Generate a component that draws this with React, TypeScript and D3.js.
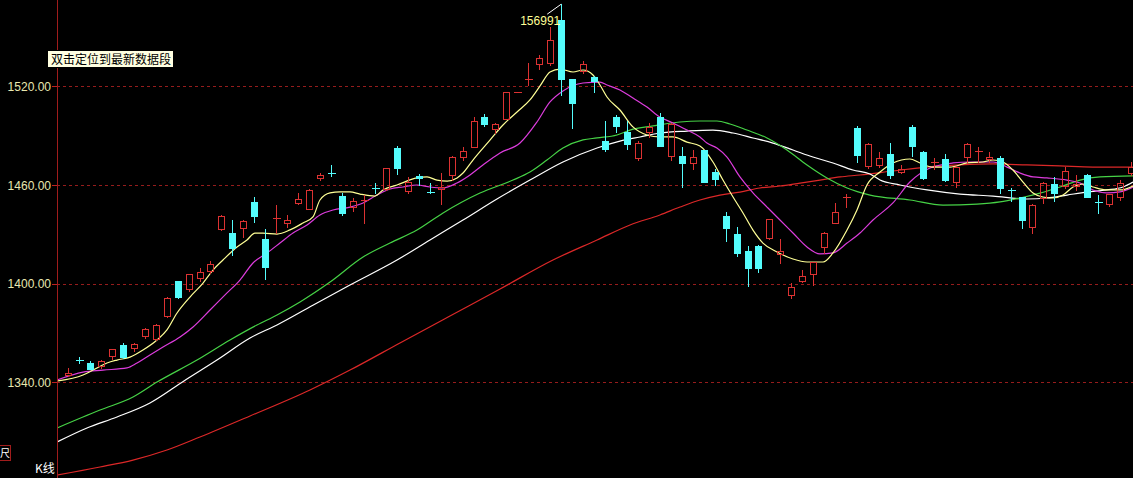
import React, { useRef, useEffect } from 'react';
import * as d3 from 'd3';

const W = 1133;
const H = 478;

// K-line values, one entry per session (left to right)
const openPrices = [
  1344.5, 1353.8, 1352.0, 1350.0, 1356.0, 1362.7, 1360.7, 1368.2, 1366.2, 1380.4,
  1401.6, 1396.6, 1403.6, 1407.9, 1433.1, 1431.0, 1433.7, 1449.5, 1427.0, 1439.6,
  1436.7, 1448.9, 1445.6, 1464.4, 1467.6, 1453.3, 1446.8, 1450.6, 1458.1, 1457.4,
  1482.3, 1456.5, 1465.2, 1455.7, 1457.4, 1466.1, 1476.8, 1483.3, 1501.3, 1494.0,
  1500.4, 1516.5, 1524.3, 1533.4, 1534.0, 1560.3, 1524.4, 1529.3, 1525.8, 1486.7,
  1501.5, 1492.4, 1476.2, 1492.4, 1501.5, 1477.8, 1477.6, 1473.2, 1481.3, 1468.1,
  1441.2, 1430.0, 1420.0, 1423.1, 1427.6, 1417.9, 1393.1, 1401.8, 1405.9, 1422.5,
  1437.1, 1452.7, 1494.5, 1471.5, 1472.2, 1478.8, 1467.9, 1495.4, 1479.9, 1473.4,
  1475.6, 1462.0, 1476.8, 1480.1, 1475.6, 1476.2, 1456.7, 1452.5, 1434.3, 1451.9,
  1460.6, 1459.4, 1459.4, 1466.1, 1449.4, 1448.4, 1452.5, 1467.5,
];
const highPrices = [
  1348.9, 1355.2, 1353.0, 1353.5, 1360.5, 1363.8, 1364.1, 1372.8, 1375.5, 1392.1,
  1401.8, 1406.2, 1409.4, 1413.8, 1442.0, 1438.7, 1438.5, 1452.9, 1433.1, 1447.8,
  1441.8, 1455.0, 1457.3, 1467.5, 1472.2, 1455.0, 1451.9, 1453.9, 1461.0, 1470.5,
  1483.7, 1465.0, 1466.7, 1461.4, 1467.1, 1477.5, 1483.3, 1501.2, 1503.2, 1497.5,
  1516.8, 1516.5, 1534.0, 1539.0, 1556.2, 1569.91, 1524.5, 1535.6, 1526.0, 1498.9,
  1502.6, 1499.1, 1486.5, 1497.9, 1503.6, 1497.5, 1483.3, 1481.3, 1481.5, 1469.7,
  1443.4, 1434.6, 1423.1, 1423.5, 1439.5, 1427.0, 1400.2, 1408.3, 1413.5, 1431.5,
  1449.2, 1454.5, 1496.0, 1485.3, 1480.2, 1485.3, 1472.2, 1496.5, 1480.5, 1476.6,
  1478.7, 1471.5, 1485.3, 1482.9, 1480.2, 1477.6, 1458.0, 1453.0, 1448.2, 1462.0,
  1465.0, 1470.8, 1466.1, 1466.5, 1453.9, 1454.6, 1463.0, 1474.2,
];
const lowPrices = [
  1344.0, 1352.0, 1348.0, 1348.8, 1354.0, 1355.0, 1359.3, 1366.8, 1365.8, 1379.6,
  1391.5, 1395.8, 1401.8, 1406.7, 1432.5, 1417.4, 1428.6, 1437.7, 1402.7, 1430.6,
  1434.6, 1448.5, 1445.2, 1463.0, 1465.5, 1441.8, 1444.4, 1437.1, 1455.0, 1457.0,
  1466.7, 1455.0, 1460.0, 1455.2, 1448.4, 1463.0, 1475.2, 1483.0, 1495.9, 1491.4,
  1500.0, 1516.5, 1520.8, 1530.3, 1533.0, 1514.7, 1494.8, 1527.9, 1516.7, 1480.9,
  1492.4, 1481.9, 1475.5, 1489.4, 1483.5, 1475.2, 1458.6, 1469.7, 1462.0, 1460.0,
  1426.0, 1416.8, 1398.8, 1406.9, 1427.3, 1412.4, 1391.1, 1401.3, 1399.2, 1418.8,
  1437.0, 1446.4, 1474.2, 1470.3, 1471.0, 1464.4, 1467.5, 1477.8, 1463.5, 1469.5,
  1462.6, 1458.6, 1473.6, 1474.2, 1474.2, 1455.3, 1450.5, 1433.7, 1431.0, 1448.9,
  1450.5, 1458.0, 1457.0, 1452.5, 1442.8, 1447.2, 1450.9, 1466.1,
];
const closePrices = [
  1345.9, 1353.6, 1348.0, 1353.0, 1360.1, 1355.6, 1363.2, 1372.3, 1374.9, 1391.1,
  1391.7, 1405.7, 1407.3, 1412.0, 1441.2, 1421.5, 1438.3, 1441.3, 1410.3, 1440.2,
  1438.7, 1451.3, 1457.0, 1466.1, 1467.4, 1442.8, 1450.3, 1450.9, 1458.0, 1470.2,
  1470.2, 1462.0, 1464.3, 1455.3, 1459.0, 1476.8, 1480.7, 1499.1, 1497.1, 1497.1,
  1516.4, 1516.5, 1524.4, 1537.0, 1548.1, 1524.4, 1510.0, 1533.4, 1523.2, 1481.9,
  1495.9, 1484.9, 1485.7, 1495.4, 1483.9, 1497.1, 1473.6, 1476.8, 1462.0, 1463.6,
  1434.0, 1418.5, 1409.4, 1409.7, 1439.1, 1420.0, 1397.8, 1404.7, 1413.0, 1431.0,
  1443.4, 1453.0, 1478.2, 1484.9, 1476.2, 1466.1, 1469.5, 1483.9, 1464.1, 1474.2,
  1463.0, 1471.1, 1484.9, 1480.4, 1477.2, 1458.0, 1456.4, 1438.7, 1447.8, 1461.4,
  1455.0, 1468.5, 1460.6, 1452.9, 1449.1, 1454.3, 1461.0, 1471.1,
];

// moving average lines: [session index, price]
const ma5Line: [number, number][] = [
  [-1, 1340.9], [1.37, 1344.5], [2.28, 1347.5], [3.56, 1351.8], [4.47, 1353.6], [5.66, 1355.4],
  [6.84, 1359.7], [8.12, 1365.8], [9.03, 1371.9], [9.95, 1382.2], [11.13, 1391.9], [12.32, 1400.4],
  [13.23, 1408.3], [14.14, 1414.4], [15.42, 1422.3], [16.33, 1426.6], [17.06, 1430.8], [17.79, 1430.8],
  [19.07, 1430.2], [20.26, 1432.7], [21.44, 1436.9], [22.35, 1440.6], [22.99, 1450.9], [23.91, 1455.2],
  [24.82, 1455.8], [25.73, 1455.8], [26.64, 1454.5], [28.0, 1453.3], [28.74, 1457.0], [30.02, 1460.0],
  [31.84, 1464.3], [32.76, 1464.9], [33.67, 1463.0], [34.6, 1462.4], [35.5, 1464.3], [36.04, 1467.3],
  [36.95, 1475.2], [38.5, 1487.3], [39.69, 1496.5], [40.97, 1504.4], [42.15, 1511.7], [43.07, 1520.2],
  [43.98, 1528.7], [44.89, 1530.5], [46.08, 1528.7], [46.99, 1529.9], [47.9, 1526.9], [48.54, 1520.8],
  [49.18, 1513.5], [50.36, 1505.6], [51.55, 1495.3], [52.83, 1490.4], [54.01, 1489.2], [55.2, 1489.2],
  [56.48, 1486.1], [57.66, 1483.7], [58.85, 1474.0], [59.76, 1463.0], [60.68, 1452.7], [61.59, 1443.0],
  [62.5, 1432.6], [63.41, 1424.7], [64.69, 1419.3], [66.15, 1415.0], [67.43, 1413.2], [68.89, 1413.2],
  [69.8, 1418.7], [71.08, 1432.6], [71.99, 1444.8], [72.9, 1460.0], [74.09, 1467.9], [75.27, 1473.4],
  [76.82, 1475.8], [77.74, 1473.4], [78.92, 1470.9], [80.47, 1470.9], [82.03, 1473.4], [83.49, 1474.0],
  [84.4, 1475.2], [85.31, 1474.0], [86.22, 1469.1], [87.14, 1461.8], [88.05, 1455.2], [88.96, 1452.7],
  [89.87, 1452.1], [90.79, 1453.9], [91.7, 1458.8], [92.61, 1460.6], [93.52, 1458.8], [94.8, 1457.0],
  [95.99, 1457.0], [97.17, 1459.4],
];
const ma10Line: [number, number][] = [
  [-1, 1341.5], [1.37, 1346.3], [3.19, 1347.5], [5.38, 1348.8], [6.3, 1351.8], [7.48, 1356.7],
  [8.67, 1361.5], [10.22, 1367.6], [11.41, 1373.7], [12.96, 1384.0], [14.51, 1394.4], [15.69, 1402.2],
  [16.88, 1412.6], [18.16, 1418.7], [19.34, 1424.7], [20.53, 1430.8], [21.81, 1435.7], [22.99, 1441.8],
  [24.18, 1444.8], [25.73, 1446.6], [26.92, 1449.1], [28.19, 1453.9], [29.38, 1457.6], [30.57, 1458.8],
  [31.84, 1460.0], [33.03, 1458.8], [34.22, 1458.2], [35.49, 1461.2], [36.68, 1466.1], [37.86, 1472.2],
  [39.42, 1479.5], [41.24, 1485.5], [42.79, 1498.3], [43.98, 1510.5], [45.16, 1517.2], [46.99, 1522.0],
  [48.54, 1522.6], [49.18, 1520.8], [50.36, 1517.8], [51.55, 1512.9], [52.83, 1507.4], [54.01, 1501.3],
  [55.2, 1497.7], [56.48, 1493.4], [57.66, 1489.2], [58.3, 1485.5], [59.21, 1482.5], [60.13, 1477.0],
  [61.31, 1464.9], [62.5, 1455.2], [63.78, 1446.6], [64.96, 1438.7], [66.15, 1430.8], [67.43, 1422.3],
  [68.61, 1418.1], [69.8, 1418.7], [71.08, 1424.7], [72.26, 1430.8], [73.45, 1438.7], [75.27, 1449.1],
  [76.82, 1461.8], [78.65, 1470.3], [80.75, 1473.4], [82.3, 1474.0], [84.4, 1474.0], [85.68, 1470.9],
  [86.86, 1467.3], [88.05, 1464.9], [89.32, 1464.3], [91.15, 1463.0], [92.34, 1461.2], [93.52, 1457.0],
  [94.8, 1455.2], [95.99, 1455.8], [97.17, 1458.8],
];
const ma20Line: [number, number][] = [
  [-1, 1312.3], [2.92, 1323.2], [5.93, 1331.1], [8.12, 1340.2], [11.77, 1353.6], [14.78, 1365.8],
  [17.24, 1374.9], [19.07, 1381.0], [21.17, 1388.9], [23.91, 1401.0], [26.92, 1416.2], [29.38, 1424.7],
  [31.84, 1432.6], [34.22, 1443.0], [37.59, 1455.1], [40.6, 1463.0], [42.15, 1467.9], [43.7, 1475.2],
  [45.16, 1482.5], [46.99, 1487.4], [48.27, 1488.6], [50.09, 1490.4], [51.28, 1493.4], [53.38, 1495.9],
  [55.84, 1498.3], [57.66, 1498.9], [59.21, 1498.9], [60.4, 1497.1], [61.95, 1493.4], [63.78, 1488.6],
  [65.6, 1481.3], [67.43, 1472.2], [69.25, 1464.3], [71.08, 1458.2], [73.18, 1453.9], [76.82, 1450.9],
  [79.84, 1447.8], [82.94, 1448.4], [85.04, 1449.7], [86.86, 1452.1], [88.69, 1455.1], [90.51, 1458.8],
  [92.34, 1463.0], [94.16, 1464.9], [97.17, 1465.5],
];
const ma30Line: [number, number][] = [
  [-1, 1303.8], [1.73, 1312.3], [4.47, 1319.0], [7.48, 1327.5], [10.58, 1340.9], [13.59, 1353.6],
  [16.61, 1367.0], [19.07, 1374.9], [22.72, 1388.3], [25.73, 1399.2], [30.02, 1414.4], [33.03, 1426.6],
  [36.04, 1438.7], [39.14, 1451.5], [42.15, 1463.0], [45.16, 1474.0], [48.27, 1482.5], [50.36, 1486.7],
  [52.19, 1489.2], [54.01, 1491.6], [56.48, 1492.8], [58.85, 1493.4], [60.68, 1491.6], [62.5, 1488.6],
  [64.32, 1485.5], [66.15, 1481.3], [67.97, 1477.0], [69.8, 1473.4], [71.62, 1469.1], [73.18, 1466.7],
  [74.09, 1463.0], [75.91, 1460.0], [78.38, 1457.0], [81.39, 1454.5], [84.4, 1453.3], [87.5, 1451.5],
  [89.32, 1452.1], [91.15, 1453.9], [92.97, 1455.7], [94.8, 1457.0], [96.26, 1458.8], [97.17, 1461.8],
];
const ma60Line: [number, number][] = [
  [-1, 1283.7], [2.92, 1288.6], [5.93, 1292.8], [9.03, 1298.9], [12.04, 1306.8], [16.61, 1319.6],
  [22.08, 1335.4], [25.73, 1347.5], [30.29, 1364.0], [34.85, 1380.4], [39.42, 1396.8], [44.25, 1414.4],
  [48.27, 1426.6], [51.28, 1435.7], [54.01, 1441.8], [55.84, 1446.6], [57.66, 1450.9], [59.49, 1453.9],
  [61.31, 1455.7], [63.14, 1458.2], [64.96, 1459.4], [66.79, 1461.2], [68.61, 1463.0], [70.44, 1464.9],
  [72.26, 1466.1], [75.27, 1468.5], [78.38, 1470.9], [81.39, 1472.2], [84.4, 1472.8], [87.5, 1472.2],
  [90.51, 1471.6], [93.52, 1470.9], [97.17, 1470.9],
];

const yTicks = [1340, 1400, 1460, 1520];
const peakLabel = "156991";
const tipText = "双击定位到最新数据段";

const UP = "#dc3232";
const DOWN = "#54fcfc";

export default function App() {
  const svgRef = useRef<SVGSVGElement>(null);

  useEffect(() => {
    if (!svgRef.current) return;
    document.body.style.margin = "0";
    const svg = d3.select(svgRef.current);
    svg.selectAll("*").remove();

    const axisX = 57;
    const x = d3.scaleLinear().domain([0, 97]).range([68, 1131.1]);
    const y = d3.scaleLinear().domain([1281.9, 1572.46]).range([H, 0]);

    svg.append("rect").attr("width", W).attr("height", H).attr("fill", "#000");

    svg.append("defs").append("clipPath").attr("id", "plot")
      .append("rect").attr("x", axisX + 1).attr("y", 0).attr("width", W - axisX).attr("height", H);

    // Grid
    svg.append("g").selectAll("line")
      .data(yTicks).enter().append("line")
      .attr("x1", axisX).attr("x2", W)
      .attr("y1", d => Math.round(y(d)) + 0.5).attr("y2", d => Math.round(y(d)) + 0.5)
      .attr("stroke", "#961c1c").attr("stroke-dasharray", "3 3");

    // Y axis
    svg.append("line")
      .attr("x1", axisX + 0.5).attr("x2", axisX + 0.5).attr("y1", 0).attr("y2", H)
      .attr("stroke", "#a01c1c");
    const ticks = svg.append("g");
    ticks.selectAll("line").data(yTicks).enter().append("line")
      .attr("x1", 52).attr("x2", axisX)
      .attr("y1", d => Math.round(y(d)) + 0.5).attr("y2", d => Math.round(y(d)) + 0.5)
      .attr("stroke", "#c02020");
    ticks.selectAll("text").data(yTicks).enter().append("text")
      .attr("x", 51).attr("y", d => y(d) + 4.5)
      .attr("text-anchor", "end")
      .style("font-family", "'Liberation Sans', Arial, sans-serif")
      .style("font-size", "12px")
      .style("fill", "#e8e8b0")
      .text(d => d.toFixed(2));

    const plot = svg.append("g").attr("clip-path", "url(#plot)");

    // MA lines
    const line = d3.line<[number, number]>()
      .x(d => x(d[0]))
      .y(d => y(d[1]))
      .curve(d3.curveMonotoneX);
    const maSeries: [[number, number][], string][] = [
      [ma60Line, "#dc2828"],
      [ma30Line, "#ffffff"],
      [ma20Line, "#46d246"],
      [ma10Line, "#dc3cdc"],
      [ma5Line, "#ffff96"],
    ];
    maSeries.forEach(([pts, color]) => {
      plot.append("path")
        .datum(pts)
        .attr("d", line)
        .attr("fill", "none")
        .attr("stroke", color)
        .attr("stroke-width", 1.2);
    });

    // Candles
    const g = plot.append("g").attr("shape-rendering", "crispEdges");
    openPrices.forEach((o, i) => {
      const c = closePrices[i];
      const hi = highPrices[i];
      const lo = lowPrices[i];
      const cx = Math.round(x(i)) + 0.5;
      const top = Math.round(y(Math.max(o, c)));
      const bot = Math.round(y(Math.min(o, c)));
      const up = c >= o;
      const color = up ? UP : DOWN;
      const yh = Math.round(y(hi));
      const yl = Math.round(y(lo));
      if (bot - top < 2) {
        g.append("line").attr("x1", cx).attr("x2", cx).attr("y1", yh).attr("y2", yl + 1).attr("stroke", color);
        g.append("line").attr("x1", cx - 3.5).attr("x2", cx + 4.5)
          .attr("y1", top + 0.5).attr("y2", top + 0.5).attr("stroke", color);
        return;
      }
      if (up) {
        g.append("line").attr("x1", cx).attr("x2", cx).attr("y1", yh).attr("y2", top).attr("stroke", color);
        g.append("line").attr("x1", cx).attr("x2", cx).attr("y1", bot).attr("y2", yl + 1).attr("stroke", color);
        g.append("rect")
          .attr("x", cx - 3).attr("y", top + 0.5)
          .attr("width", 6).attr("height", bot - top)
          .attr("fill", "none").attr("stroke", color);
      } else {
        g.append("line").attr("x1", cx).attr("x2", cx).attr("y1", yh).attr("y2", yl + 1).attr("stroke", color);
        g.append("rect")
          .attr("x", cx - 3.5).attr("y", top)
          .attr("width", 7).attr("height", bot - top + 1)
          .attr("fill", color);
      }
    });

    // Peak marker
    const peakIdx = highPrices.indexOf(d3.max(highPrices)!);
    const px = x(peakIdx);
    const py = y(highPrices[peakIdx]);
    svg.append("line")
      .attr("x1", px - 14).attr("y1", py + 10).attr("x2", px).attr("y2", py)
      .attr("stroke", "#ffffff");
    svg.append("text")
      .attr("x", px - 41).attr("y", py + 21)
      .style("font-family", "'Liberation Sans', Arial, sans-serif")
      .style("font-size", "12px")
      .style("fill", "#ffff96")
      .text(peakLabel);

    // Tooltip
    svg.append("rect")
      .attr("x", 47.5).attr("y", 50.5).attr("width", 126).attr("height", 17)
      .attr("fill", "#ffffe1").attr("stroke", "#000");
    svg.append("text")
      .attr("x", 51).attr("y", 63.5)
      .style("font-family", "'Noto Sans CJK SC', sans-serif")
      .style("font-size", "12px")
      .style("fill", "#000")
      .text(tipText);

    // Bottom-left labels
    svg.append("rect")
      .attr("x", -1.5).attr("y", 445.5).attr("width", 12).attr("height", 15)
      .attr("fill", "#000").attr("stroke", "#a01c1c");
    svg.append("text")
      .attr("x", 0).attr("y", 457)
      .style("font-family", "'Noto Sans CJK SC', sans-serif")
      .style("font-size", "10px")
      .style("fill", "#ffffff")
      .text("尺");
    svg.append("text")
      .attr("x", 35).attr("y", 473)
      .style("font-family", "'Noto Sans CJK SC', sans-serif")
      .style("font-size", "12px")
      .style("fill", "#ffffff")
      .text("K线");
  }, []);

  return <svg ref={svgRef} width={W} height={H} style={{ display: "block" }} />;
}
